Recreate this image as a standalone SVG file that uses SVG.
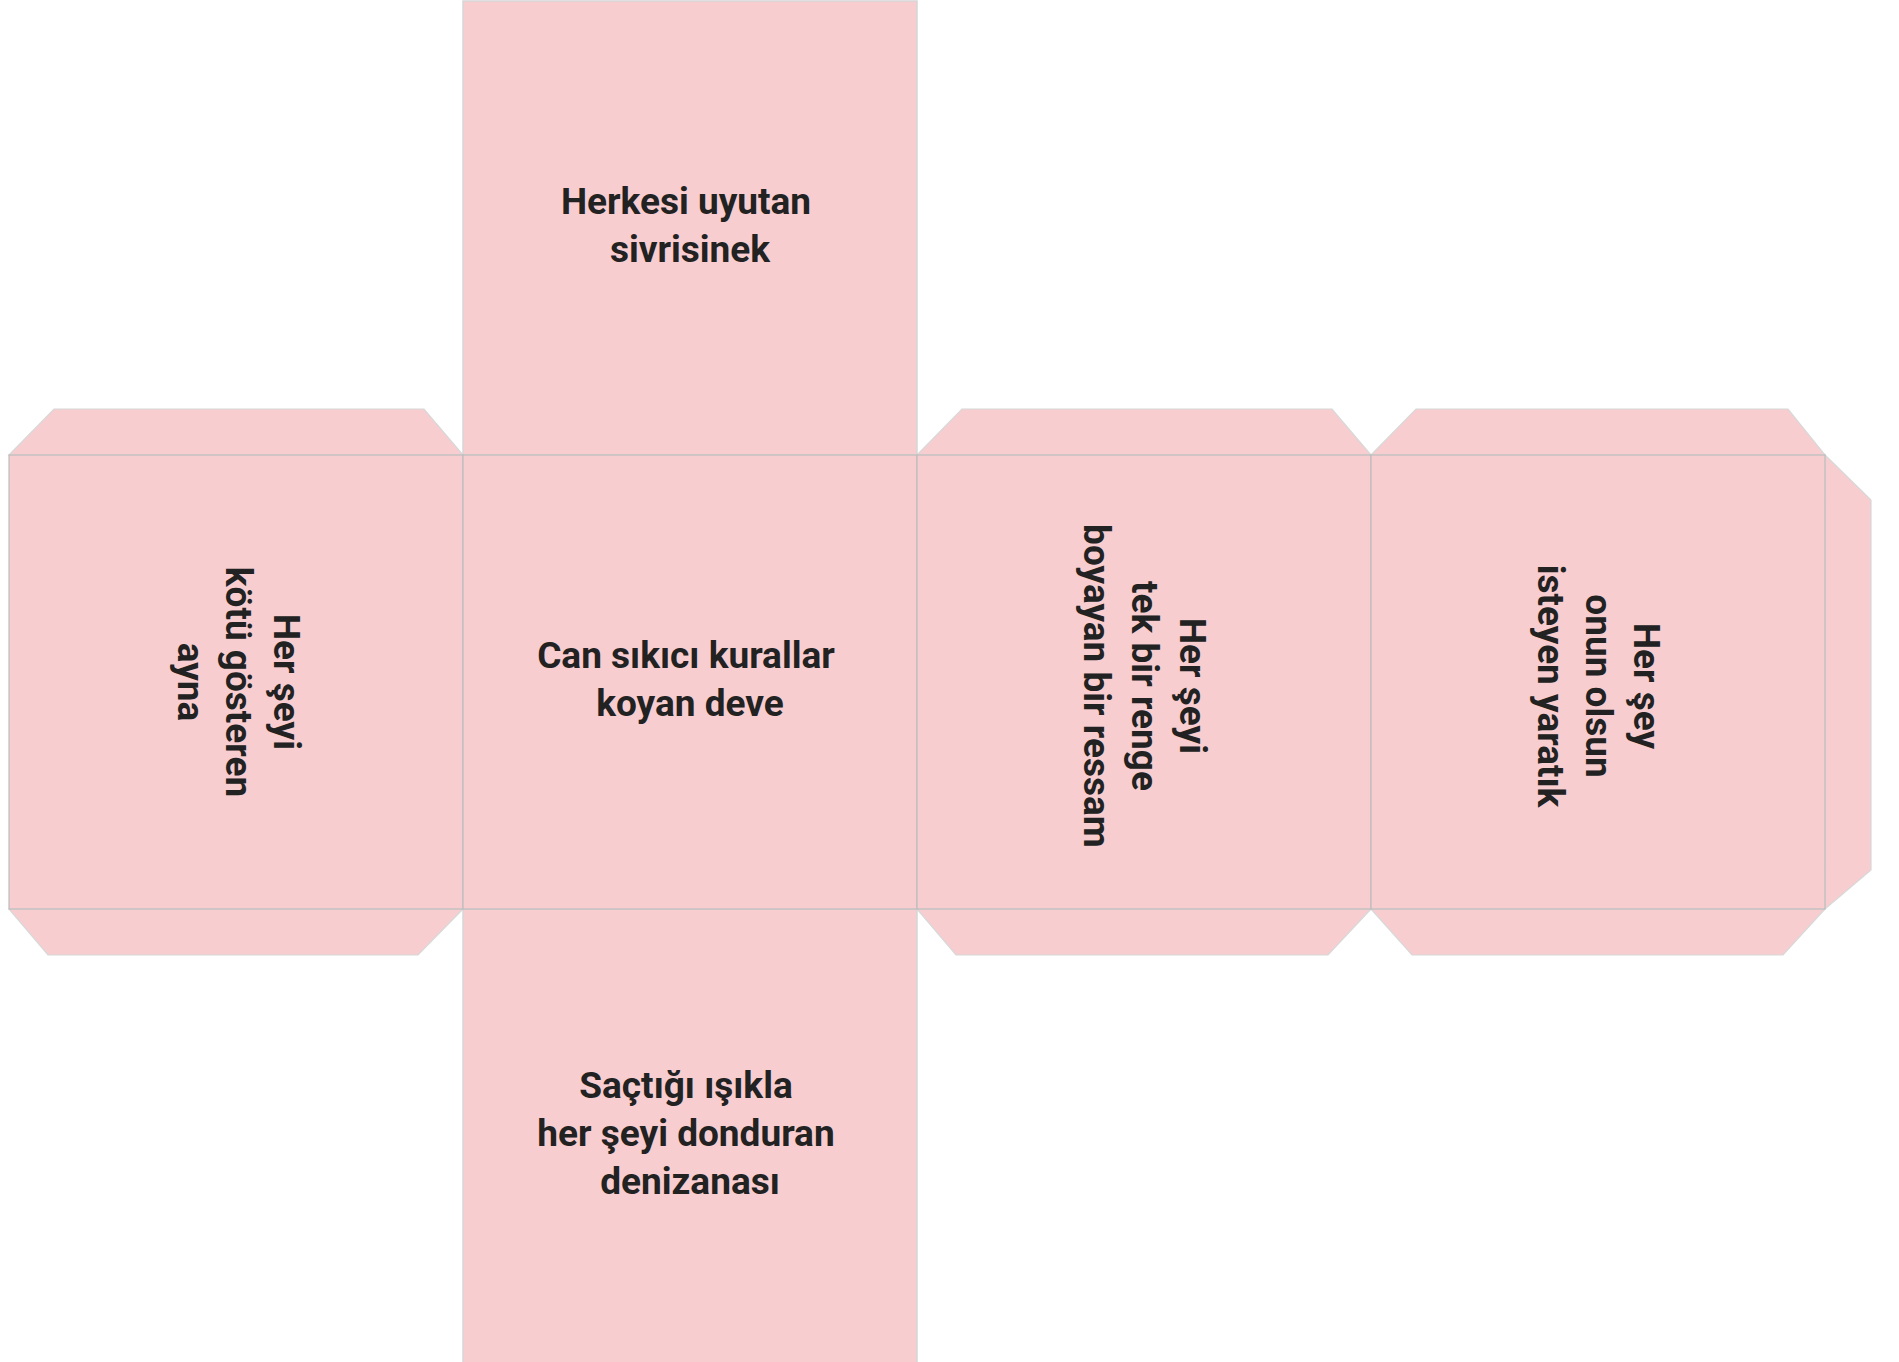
<svg xmlns="http://www.w3.org/2000/svg" width="1899" height="1362" viewBox="0 0 1899 1362">
<style>
.flap{fill:#F7CDD0;stroke:#D8D8D8;stroke-width:1.2}
.face{fill:#F7CDD0;stroke:#BDBDBD;stroke-width:1.2}
.edge{fill:#F7CDD0;stroke:#D6D6D6;stroke-width:1.5}
.t{font-family:Roboto,"Liberation Sans",sans-serif;font-weight:700;font-size:37px;fill:#222222;text-anchor:middle}
</style>
<rect width="1899" height="1362" fill="#FFFFFF"/>
<g id="flaps">
<polygon class="flap" points="9,455 54,409 424,409 463,455"/>
<polygon class="flap" points="9,909 48,955 418,955 463,909"/>
<polygon class="flap" points="917,455 962,409 1332,409 1371,455"/>
<polygon class="flap" points="917,909 956,955 1328,955 1371,909"/>
<polygon class="flap" points="1371,455 1416,409 1788,409 1825,455"/>
<polygon class="flap" points="1371,909 1412,955 1783,955 1825,909"/>
<polygon class="flap" points="1825,455 1871,500 1871,870 1825,909"/>
</g>
<g id="face-top">
<rect class="edge" x="463" y="1" width="454" height="454"/>
<text class="t" x="686" y="214">Herkesi uyutan</text>
<text class="t" x="690" y="262">sivrisinek</text>
</g>
<g id="face-bottom">
<rect class="edge" x="463" y="909" width="454" height="460"/>
<text class="t" x="686" y="1098">Saçtığı ışıkla</text>
<text class="t" x="686" y="1146">her şeyi donduran</text>
<text class="t" x="690" y="1194">denizanası</text>
</g>
<g id="face-left">
<rect class="face" x="9" y="455" width="454" height="454"/>
<g transform="translate(236,682) rotate(90)">
<text class="t" x="0" y="-38">Her şeyi</text>
<text class="t" x="0" y="10">kötü gösteren</text>
<text class="t" x="0" y="58">ayna</text>
</g>
</g>
<g id="face-center">
<rect class="face" x="463" y="455" width="454" height="454"/>
<text class="t" x="686" y="668">Can sıkıcı kurallar</text>
<text class="t" x="690" y="716">koyan deve</text>
</g>
<g id="face-right1">
<rect class="face" x="917" y="455" width="454" height="454"/>
<g transform="translate(1144,686) rotate(90)">
<text class="t" x="0" y="-36">Her şeyi</text>
<text class="t" x="0" y="12">tek bir renge</text>
<text class="t" x="0" y="60">boyayan bir ressam</text>
</g>
</g>
<g id="face-right2">
<rect class="face" x="1371" y="455" width="454" height="454"/>
<g transform="translate(1598,686) rotate(90)">
<text class="t" x="0" y="-36">Her şey</text>
<text class="t" x="0" y="12">onun olsun</text>
<text class="t" x="0" y="60">isteyen yaratık</text>
</g>
</g>
</svg>
